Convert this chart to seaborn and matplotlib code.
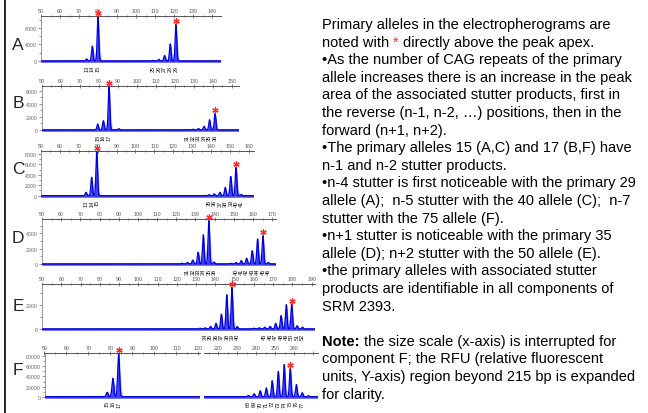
import numpy as np
import pandas as pd
import matplotlib
matplotlib.use("Agg")
import matplotlib.pyplot as plt
import seaborn as sns
from matplotlib.ticker import MultipleLocator, FuncFormatter
from matplotlib.transforms import ScaledTranslation
from matplotlib.lines import Line2D

# ---- peak tables (size in bp, height in RFU, allele label) ----
A_bp = [74, 77, 80, 109, 112, 115, 118, 121]
A_rfu = [500, 3600, 10800, 150, 400, 1350, 4150, 8850]
A_lab = ["13", "14", "15", "25", "26", "27", "28", "29"]
A_primary = [80, 121]

B_bp = [79.3, 82.3, 85.3, 90.5, 126.6, 129.5, 132.4, 135.3, 138.2, 141.1]
B_rfu = [920, 1420, 6700, 200, 80, 130, 220, 560, 1570, 2550]
B_lab = ["15", "16", "17", "", "31", "32", "33", "34", "35", "36"]
B_primary = [85.3, 141.1]

C_bp = [73.8, 76.8, 79.5, 138.9, 141.7, 144.7, 147.5, 150.4, 153.2, 156.0]
C_rfu = [650, 3540, 8600, 200, 350, 650, 1600, 3700, 5460, 250]
C_lab = ["13", "14", "15", "35", "36", "37", "38", "39", "40", "41"]
C_primary = [79.5, 153.2]

D_bp = [122.9, 125.8, 128.6, 131.4, 134.1, 137.0, 139.7,
        148.4, 151.2, 153.9, 156.7, 159.6, 162.4, 165.2, 168.0]
D_rfu = [100, 200, 520, 1530, 3830, 5660, 250,
         80, 200, 450, 750, 1740, 3270, 3700, 200]
D_lab = ["", "31", "32", "33", "34", "35", "36",
         "", "40", "41", "42", "43", "44", "45", "46"]
D_primary = [137.0, 165.2]

E_bp = [132.0, 134.7, 137.5, 140.3, 143.1, 145.9, 148.6, 151.4,
        160.0, 162.8, 165.6, 168.4, 171.3, 174.1, 176.8, 179.6, 182.4, 185.2]
E_rfu = [60, 100, 220, 470, 1230, 2820, 3430, 200,
         60, 100, 150, 220, 470, 1100, 2000, 2050, 270, 150]
E_lab = ["", "34", "35", "36", "37", "38", "39", "40",
         "", "", "45", "46", "47", "48", "49", "50", "51", "52"]
E_primary = [148.6, 179.6]

F1_bp = [78.5, 81.1, 83.7]
F1_rfu = [8700, 36400, 86000]
F1_lab = ["15", "16", "17"]
F1_primary = [83.7]

F2_bp = [235.8, 238.9, 242.1, 245.3, 248.4, 251.6, 254.7, 257.9, 261.1, 264.2, 267.4]
F2_rfu = [130, 300, 600, 880, 1600, 2530, 3220, 2850, 1220, 400, 100]
F2_lab = ["68", "69", "70", "71", "72", "73", "74", "75", "76", "77", ""]
F2_primary = [257.9]

W, H = 648, 414
sns.set_style("white")
plt.rcParams["font.family"] = ["Liberation Sans", "DejaVu Sans"]

fig = plt.figure(figsize=(W / 100, H / 100), dpi=100)
RED = "#ff2a2a"


def make_axes(left, right, top, base, pad=2.5):
    return fig.add_axes([left / W, 1 - (base + pad) / H,
                         (right - left) / W, (base + pad - top) / H])


def gauss_trace(x, bp, rfu, sig):
    y = np.zeros_like(x)
    for p, h in zip(bp, rfu):
        y += h * np.exp(-0.5 * ((x - p) / sig) ** 2)
    return y


def panel(box, xlim, ymax, bp, rfu, lab, primary, ymajor, yminor,
          show_y=True, xlabel_max=None):
    left, right, top, base = box
    pad = 2.5
    ax = make_axes(left, right, top, base, pad)
    ax.set_xlim(*xlim)
    ax.set_ylim(-pad / (base - top) * ymax, ymax)

    x = np.linspace(xlim[0], xlim[1], 5000)
    halo = gauss_trace(x, bp, rfu, 0.75)
    core = gauss_trace(x, bp, rfu, 0.42)
    trace = pd.DataFrame({"bp": x, "rfu": core})
    ax.axhline(0, color="#4a4ad8", lw=1.8, zorder=1)
    ax.fill_between(x, 0, halo, color="#8c8cff", alpha=0.45, lw=0, zorder=2)
    ax.fill_between(x, 0, core, color="#2a2aff", alpha=0.85, lw=0, zorder=3)
    sns.lineplot(data=trace, x="bp", y="rfu", ax=ax, color="#0000d8",
                 lw=0.9, zorder=4, legend=False)

    off = ScaledTranslation(0, 2.3 / 72, fig.dpi_scale_trans)
    for p in primary:
        h = rfu[bp.index(p)]
        ax.plot([p], [min(h, ymax)], marker=(6, 2, 0), ms=4.5, mew=0.9,
                color=RED, transform=ax.transData + off, clip_on=False,
                zorder=6)
    for p, t in zip(bp, lab):
        if t:
            ax.annotate(t, xy=(p, 0), xytext=(0, -2.6),
                        textcoords="offset points", rotation=90,
                        ha="center", va="top", fontsize=4.0,
                        color="#111111", annotation_clip=False)

    ax.set_xlabel("")
    ax.set_ylabel("")
    for s in ["right", "bottom"]:
        ax.spines[s].set_visible(False)
    ax.spines["top"].set_color("#555555")
    ax.spines["top"].set_linewidth(0.7)
    ax.spines["left"].set_color("#888888")
    ax.spines["left"].set_linewidth(0.6)
    ax.spines["left"].set_bounds(0, ymax)

    ax.xaxis.set_major_locator(MultipleLocator(10))
    ax.xaxis.set_minor_locator(MultipleLocator(5))
    if xlabel_max is not None:
        ax.xaxis.set_major_formatter(
            FuncFormatter(lambda v, _: f"{v:.0f}" if v <= xlabel_max else ""))
    else:
        ax.xaxis.set_major_formatter(FuncFormatter(lambda v, _: f"{v:.0f}"))
    ax.tick_params(axis="x", which="both", top=True, labeltop=True,
                   bottom=False, labelbottom=False, direction="inout",
                   width=0.5, colors="#555555", pad=0.8, labelsize=3.8)
    ax.tick_params(axis="x", which="major", length=3)
    ax.tick_params(axis="x", which="minor", length=2)

    if show_y:
        ax.set_yticks(ymajor)
        ax.yaxis.set_major_formatter(FuncFormatter(lambda v, _: f"{v:.0f}"))
        ax.yaxis.set_minor_locator(MultipleLocator(yminor))
        ax.tick_params(axis="y", which="both", left=True, direction="out",
                       width=0.5, colors="#666666", pad=1, labelsize=3.8)
        ax.tick_params(axis="y", which="major", length=2)
        ax.tick_params(axis="y", which="minor", length=1.5)
    else:
        ax.spines["left"].set_visible(False)
        ax.set_yticks([])
    return ax


panel((41, 221, 17, 62), (50, 144.7), 10900, A_bp, A_rfu, A_lab, A_primary,
      [0, 4000, 8000], 2000)
panel((42, 239, 86.7, 131), (50, 153.7), 6760, B_bp, B_rfu, B_lab, B_primary,
      [0, 2000, 4000, 6000], 1000)
panel((41, 254, 151.7, 196.7), (50, 162.7), 8650, C_bp, C_rfu, C_lab,
      C_primary, [0, 2000, 4000, 6000, 8000], 1000)
panel((42, 276, 220, 265), (50, 172), 5880, D_bp, D_rfu, D_lab, D_primary,
      [0, 2000, 4000], 1000)
panel((42, 315, 285, 330), (50, 191.7), 3700, E_bp, E_rfu, E_lab, E_primary,
      [0, 2000], 1000)
panel((44.5, 200, 354, 397.7), (50, 120.7), 86500, F1_bp, F1_rfu, F1_lab,
      F1_primary, [0, 20000, 40000, 60000, 80000], 10000)
panel((204, 318, 354, 397.7), (212.5, 272.5), 4370, F2_bp, F2_rfu, F2_lab,
      F2_primary, [], 1000, show_y=False, xlabel_max=265)

# panel letters
for letter, cy in zip("ABCDEF", [45, 104, 169, 239, 307, 371]):
    fig.text(18 / W, 1 - cy / H, letter, fontsize=12.5, ha="center",
             va="center")

# frame line on the left
fig.add_artist(Line2D([4.5 / W, 4.5 / W], [0, 1], color="black", lw=1.2))

# ---- text block ----
K = "black"
lines = [
    [("Primary alleles in the electropherograms are", K, "normal")],
    [("noted with ", K, "normal"), ("* ", RED, "normal"),
     ("directly above the peak apex.", K, "normal")],
    [("\u2022As the number of CAG repeats of the primary", K, "normal")],
    [("allele increases there is an increase in the peak", K, "normal")],
    [("area of the associated stutter products, first in", K, "normal")],
    [("the reverse (n-1, n-2, \u2026) positions, then in the", K, "normal")],
    [("forward (n+1, n+2).", K, "normal")],
    [("\u2022The primary alleles 15 (A,C) and 17 (B,F) have", K, "normal")],
    [("n-1 and n-2 stutter products.", K, "normal")],
    [("\u2022n-4 stutter is first noticeable with the primary 29", K, "normal")],
    [("allele (A);  n-5 stutter with the 40 allele (C);  n-7", K, "normal")],
    [("stutter with the 75 allele (F).", K, "normal")],
    [("\u2022n+1 stutter is noticeable with the primary 35", K, "normal")],
    [("allele (D); n+2 stutter with the 50 allele (E).", K, "normal")],
    [("\u2022the primary alleles with associated stutter", K, "normal")],
    [("products are identifiable in all components of", K, "normal")],
    [("SRM 2393.", K, "normal")],
    [],
    [("Note: ", K, "bold"),
     ("the size scale (x-axis) is interrupted for", K, "normal")],
    [("component F; the RFU (relative fluorescent", K, "normal")],
    [("units, Y-axis) region beyond 215 bp is expanded", K, "normal")],
    [("for clarity.", K, "normal")],
]

FS = 10.5
renderer = fig.canvas.get_renderer()


def text_width(s, weight):
    t = fig.text(0, 0, s, fontsize=FS, fontweight=weight)
    w = t.get_window_extent(renderer).width
    t.remove()
    return w


TX = 322
for i, parts in enumerate(lines):
    y = 29 + 17.6 * i
    x = TX
    for s, color, weight in parts:
        fig.text(x / W, 1 - y / H, s, fontsize=FS, color=color,
                 fontweight=weight, ha="left", va="baseline")
        x += text_width("|" + s + "|", weight) - text_width("||", weight)

fig.savefig("out.png", dpi=100)
